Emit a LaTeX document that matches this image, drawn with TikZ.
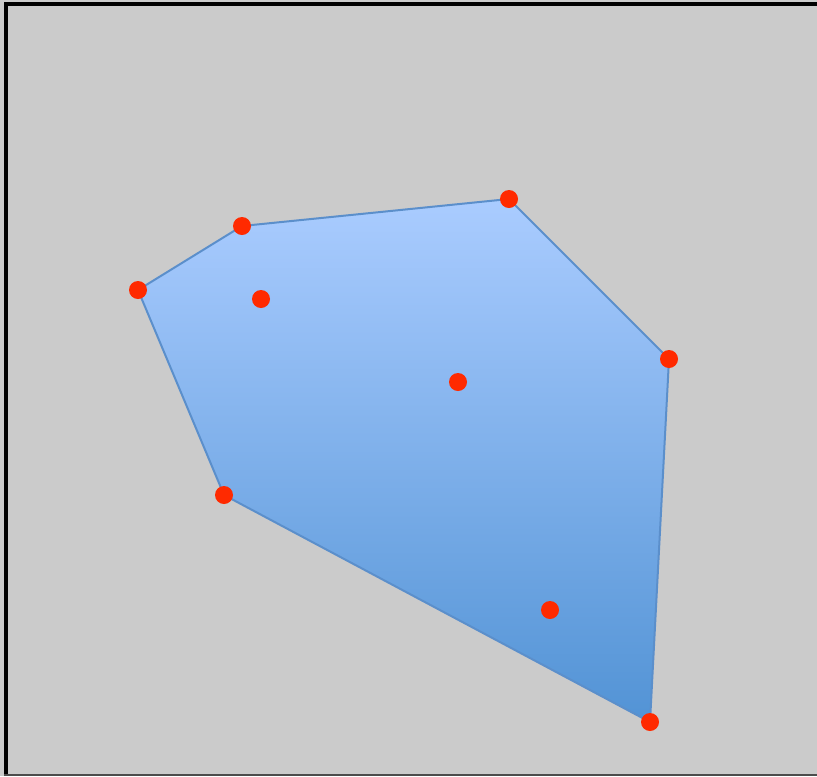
\documentclass[tikz,border=0pt]{standalone}
\definecolor{bg}{HTML}{CBCBCB}
\definecolor{topblue}{HTML}{AACCFF}
\definecolor{botblue}{HTML}{5293D5}
\definecolor{edgeblue}{HTML}{5B8FCB}
\definecolor{dotred}{HTML}{FF2A00}
\tikzset{
  pt/.style={circle, fill=dotred, inner sep=0pt, minimum size=13.5pt},
}
\begin{document}
\begin{tikzpicture}[x=0.75pt,y=-0.75pt]
\useasboundingbox (0,0) rectangle (817,776);
\fill[bg] (0,0) rectangle (817,776);
\fill[black] (4,2) rectangle (817,6);
\fill[black] (4,2) rectangle (8,776);
\fill[black!70] (4,774) rectangle (817,776);
\coordinate (p1) at (242,226);
\coordinate (p2) at (509,199);
\coordinate (p3) at (669,359);
\coordinate (p4) at (650,722);
\coordinate (p5) at (224,495);
\coordinate (p6) at (138,290);
\shade[top color=topblue, bottom color=botblue] (p1) -- (p2) -- (p3) -- (p4) -- (p5) -- (p6) -- cycle;
\draw[edgeblue, line width=1.5pt, line join=round] (p1) -- (p2) -- (p3) -- (p4) -- (p5) -- (p6) -- cycle;
\node[pt] (a) at (p1) {};
\node[pt] (b) at (p2) {};
\node[pt] (c) at (p3) {};
\node[pt] (d) at (p4) {};
\node[pt] (e) at (p5) {};
\node[pt] (f) at (p6) {};
\node[pt] (g) at (261,299) {};
\node[pt] (h) at (458,382) {};
\node[pt] (i) at (550,610) {};
\end{tikzpicture}
\end{document}
